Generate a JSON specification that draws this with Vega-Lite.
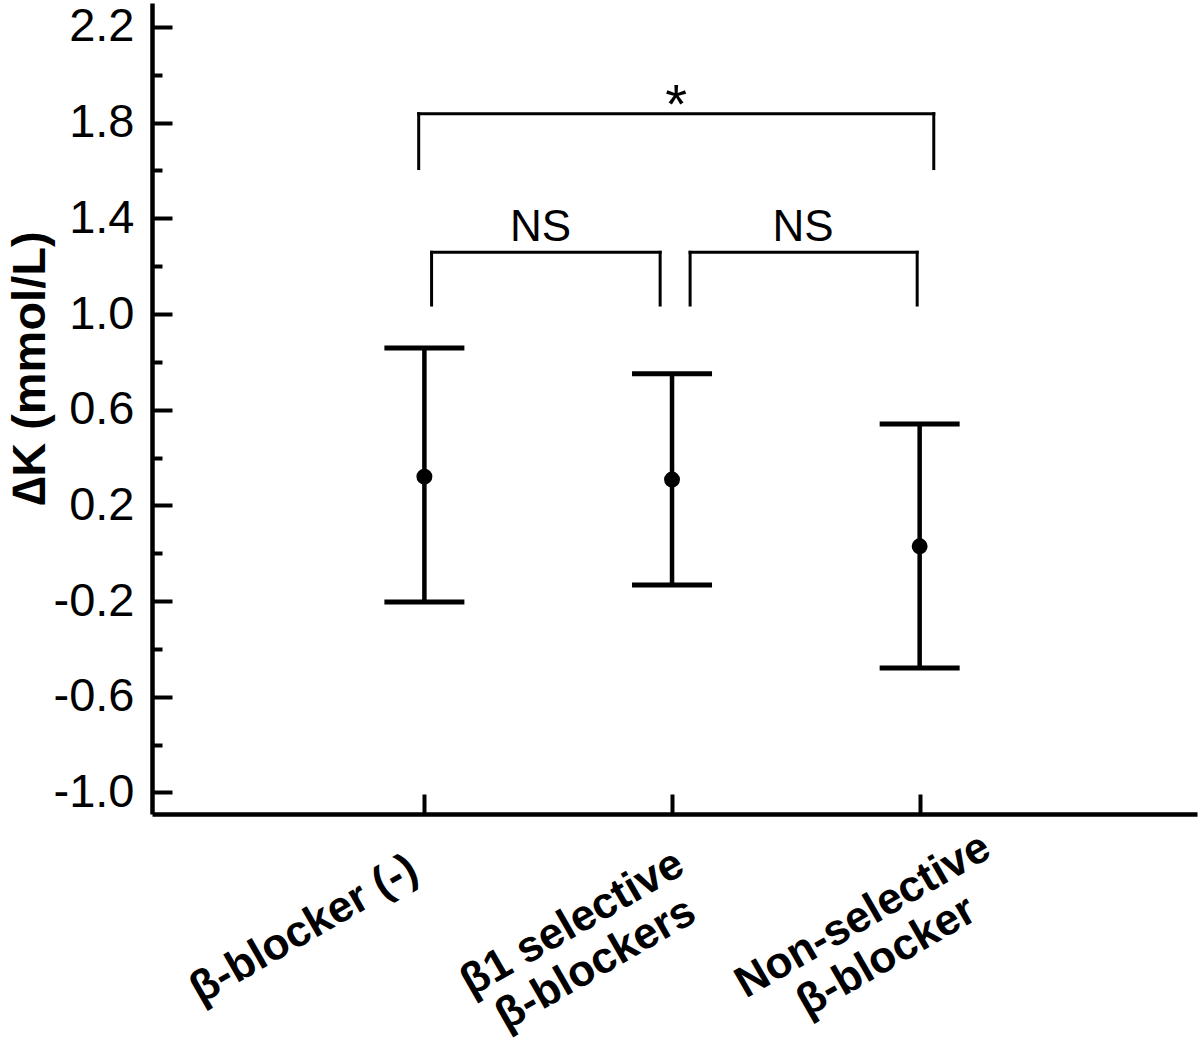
{
  "$schema": "https://vega.github.io/schema/vega-lite/v6.json",
  "width": 1045,
  "height": 811,
  "autosize": {"type": "none"},
  "padding": {"left": 152, "top": 3, "right": 3, "bottom": 230},
  "background": "white",
  "config": {"view": {"stroke": null}, "font": "Liberation Sans"},
  "datasets": {
    "groups": [
      {"cat": 1, "group": "β-blocker (-)", "mean": 0.32, "lo": -0.204, "hi": 0.858},
      {"cat": 2, "group": "β1 selective\nβ-blockers", "mean": 0.308, "lo": -0.133, "hi": 0.75},
      {"cat": 3, "group": "Non-selective\nβ-blocker", "mean": 0.029, "lo": -0.48, "hi": 0.54}
    ],
    "brackets": [
      {"x": 0.977, "x2": 3.057, "y": 1.8375, "y2": 1.8375},
      {"x": 0.977, "x2": 0.977, "y": 1.8375, "y2": 1.608},
      {"x": 3.057, "x2": 3.057, "y": 1.8375, "y2": 1.608},
      {"x": 1.029, "x2": 1.952, "y": 1.258, "y2": 1.258},
      {"x": 1.029, "x2": 1.029, "y": 1.258, "y2": 1.0375},
      {"x": 1.952, "x2": 1.952, "y": 1.258, "y2": 1.0375},
      {"x": 2.073, "x2": 2.99, "y": 1.258, "y2": 1.258},
      {"x": 2.073, "x2": 2.073, "y": 1.258, "y2": 1.0375},
      {"x": 2.99, "x2": 2.99, "y": 1.258, "y2": 1.0375}
    ],
    "notes": [
      {"x": 2.017, "y": 1.80, "text": "*"},
      {"x": 1.469, "y": 1.304, "text": "NS"},
      {"x": 2.529, "y": 1.304, "text": "NS"}
    ]
  },
  "layer": [
    {
      "data": {"name": "brackets"},
      "mark": {"type": "rule", "strokeWidth": 3, "color": "black", "strokeCap": "square"},
      "encoding": {
        "x": {
          "field": "x", "type": "quantitative",
          "scale": {"domain": [-0.1, 4.12], "nice": false, "zero": false},
          "axis": {
            "values": [1, 2, 3], "labels": false, "title": null, "grid": false,
            "domainColor": "black", "domainWidth": 4.5,
            "tickColor": "black", "tickWidth": 4, "tickSize": -20
          }
        },
        "x2": {"field": "x2"},
        "y": {
          "field": "y", "type": "quantitative",
          "scale": {"domain": [-1.09, 2.3], "nice": false, "zero": false},
          "axis": {
            "values": [-1.0, -0.8, -0.6, -0.4, -0.2, 0, 0.2, 0.4, 0.6, 0.8, 1.0, 1.2, 1.4, 1.6, 1.8, 2.0, 2.2],
            "labelExpr": "abs(round(datum.value*10)) % 4 == 2 ? (datum.value < 0 ? '-' : '') + format(abs(datum.value), '.1f') : ''",
            "grid": false,
            "domainColor": "black", "domainWidth": 4.5,
            "tickColor": "black", "tickWidth": 4,
            "tickSize": {"condition": {"test": "abs(round(datum.value*10)) % 4 == 2", "value": -20}, "value": -10},
            "labelFontSize": 47, "labelColor": "black", "labelFont": "Liberation Sans",
            "labelPadding": 38,
            "title": "∆K (mmol/L)",
            "titleFontSize": 47, "titleFontWeight": "bold", "titleColor": "black", "titleFont": "Liberation Sans",
            "titleAngle": -90, "titleX": -108, "titleY": 365, "titleAlign": "center", "titleBaseline": "alphabetic"
          }
        },
        "y2": {"field": "y2"}
      }
    },
    {
      "data": {"name": "notes"},
      "mark": {"type": "text", "color": "black", "align": "center", "baseline": "alphabetic", "font": "Liberation Sans",
               "fontSize": {"expr": "datum.text == '*' ? 56 : 44"}},
      "encoding": {
        "x": {"field": "x", "type": "quantitative", "scale": {"domain": [-0.1, 4.12], "nice": false, "zero": false}},
        "y": {"field": "y", "type": "quantitative", "scale": {"domain": [-1.09, 2.3], "nice": false, "zero": false}},
        "text": {"field": "text"}
      }
    },
    {
      "data": {"name": "groups"},
      "mark": {"type": "rule", "strokeWidth": 4.5, "color": "black"},
      "encoding": {
        "x": {"field": "cat", "type": "quantitative", "scale": {"domain": [-0.1, 4.12], "nice": false, "zero": false}},
        "y": {"field": "lo", "type": "quantitative", "scale": {"domain": [-1.09, 2.3], "nice": false, "zero": false}},
        "y2": {"field": "hi"}
      }
    },
    {
      "data": {"name": "groups"},
      "mark": {"type": "tick", "orient": "horizontal", "size": 80, "thickness": 5, "color": "black", "opacity": 1},
      "encoding": {
        "x": {"field": "cat", "type": "quantitative", "scale": {"domain": [-0.1, 4.12], "nice": false, "zero": false}},
        "y": {"field": "lo", "type": "quantitative", "scale": {"domain": [-1.09, 2.3], "nice": false, "zero": false}}
      }
    },
    {
      "data": {"name": "groups"},
      "mark": {"type": "tick", "orient": "horizontal", "size": 80, "thickness": 5, "color": "black", "opacity": 1},
      "encoding": {
        "x": {"field": "cat", "type": "quantitative", "scale": {"domain": [-0.1, 4.12], "nice": false, "zero": false}},
        "y": {"field": "hi", "type": "quantitative", "scale": {"domain": [-1.09, 2.3], "nice": false, "zero": false}}
      }
    },
    {
      "data": {"name": "groups"},
      "mark": {"type": "point", "filled": true, "size": 254, "color": "black", "opacity": 1},
      "encoding": {
        "x": {"field": "cat", "type": "quantitative", "scale": {"domain": [-0.1, 4.12], "nice": false, "zero": false}},
        "y": {"field": "mean", "type": "quantitative", "scale": {"domain": [-1.09, 2.3], "nice": false, "zero": false}}
      }
    },
    {
      "data": {"name": "groups"},
      "mark": {
        "type": "text", "color": "black", "align": "center", "baseline": "middle", "angle": -30,
        "lineBreak": "\n", "lineHeight": 47, "font": "Liberation Sans", "fontSize": 44, "fontWeight": "bold",
        "dx": {"expr": "datum.cat == 1 ? -162 : datum.cat == 2 ? -141 : -100"},
        "dy": {"expr": "datum.cat == 1 ? 40 : datum.cat == 2 ? 45 : 60"}
      },
      "encoding": {
        "x": {"field": "cat", "type": "quantitative", "scale": {"domain": [-0.1, 4.12], "nice": false, "zero": false}},
        "y": {"datum": -1.09, "type": "quantitative", "scale": {"domain": [-1.09, 2.3], "nice": false, "zero": false}},
        "text": {"field": "group"}
      }
    }
  ]
}
